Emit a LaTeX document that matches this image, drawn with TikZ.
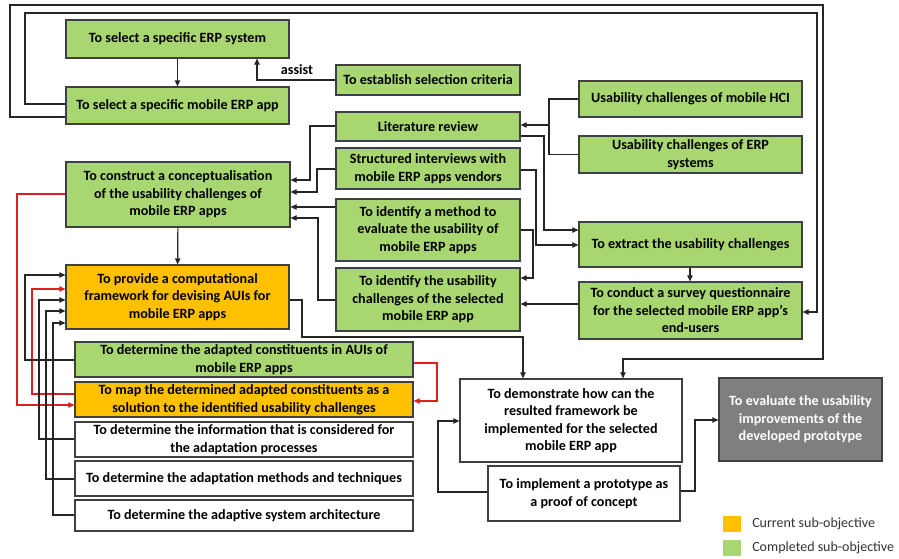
\documentclass[tikz,border=0pt]{standalone}
\usepackage{fontspec}
\setmainfont{Carlito}
\usetikzlibrary{arrows.meta}

\definecolor{donegreen}{RGB}{168,214,112}
\definecolor{curorange}{RGB}{255,192,0}
\definecolor{pendgrey}{RGB}{127,127,127}
\definecolor{edgegrey}{RGB}{64,64,64}
\definecolor{linkred}{RGB}{225,30,30}

\tikzset{
  boxfont/.style={font=\fontsize{10.6}{13.1}\selectfont\bfseries},
  objbox/.style={draw=edgegrey, line width=0.9pt, align=center, inner sep=0pt, boxfont},
  done/.style={objbox, fill=donegreen},
  current/.style={objbox, fill=curorange},
  todo/.style={objbox, fill=white},
  later/.style={objbox, fill=pendgrey, text=white},
  link/.style={color=black!85, line width=0.85pt},
  arr/.style={link, -{Triangle[length=4.5pt,width=4pt]}},
  redarr/.style={arr, color=linkred},
  legsq/.style={inner sep=0pt, minimum width=13.5pt, minimum height=12pt},
  legtxt/.style={anchor=west, inner sep=0pt, text=black!80,
                 font=\fontsize{10.5}{13}\selectfont},
}

% box given by its corners (x1,y1)-(x2,y2) in pixel units
\newcommand{\objnode}[7]{%
  \pgfmathsetmacro\objw{(#5-#3)*0.75}%
  \pgfmathsetmacro\objh{(#6-#4)*0.75}%
  \node[#1, minimum width=\objw pt, minimum height=\objh pt] (#2)
    at ({(#3+#5)/2},{(#4+#6)/2}) {#7};%
}

\begin{document}
\begin{tikzpicture}[x=0.75pt, y=-0.75pt]
\useasboundingbox (0,0) rectangle (899,559);

% ---- boxes ----
\objnode{done}{erp}{66}{20}{289}{58}{To select a specific ERP system}
\objnode{done}{app}{66}{87}{289}{124}{To select a specific mobile ERP app}
\objnode{done}{crit}{336}{65}{520}{95}{To establish selection criteria}
\objnode{done}{lit}{336}{112}{520}{141}{Literature review}
\objnode{done}{intv}{336}{148}{520}{189}{Structured interviews with\\mobile ERP apps vendors}
\objnode{done}{meth}{336}{199}{520}{261}{To identify a method to\\evaluate the usability of\\mobile ERP apps}
\objnode{done}{iden}{336}{268}{520}{331}{To identify the usability\\challenges of the selected\\mobile ERP app}
\objnode{done}{conc}{66}{162}{290}{227}{To construct a conceptualisation\\of the usability challenges of\\mobile ERP apps}
\objnode{current}{frame}{66}{265}{289}{329}{To provide a computational\\framework for devising AUIs for\\mobile ERP apps}
\objnode{done}{hci}{579}{81}{802}{117}{Usability challenges of mobile HCI}
\objnode{done}{erps}{579}{136}{802}{173}{Usability challenges of ERP\\systems}
\objnode{done}{extr}{579}{222}{802}{267}{To extract the usability challenges}
\objnode{done}{surv}{579}{282}{802}{339}{To conduct a survey questionnaire\\for the selected mobile ERP app’s\\end-users}
\objnode{done}{adap}{75}{342}{413}{377}{To determine the adapted constituents in AUIs of\\mobile ERP apps}
\objnode{current}{map}{75}{382}{413}{417}{To map the determined adapted constituents as a\\solution to the identified usability challenges}
\objnode{todo}{info}{75}{422}{413}{457}{To determine the information that is considered for\\the adaptation processes}
\objnode{todo}{amt}{75}{461}{413}{496}{To determine the adaptation methods and techniques}
\objnode{todo}{arch}{75}{500}{413}{531}{To determine the adaptive system architecture}
\objnode{todo}{demo}{460}{379}{682}{462}{To demonstrate how can the\\resulted framework be\\implemented for the selected\\mobile ERP app}
\objnode{todo}{impl}{488}{466}{680}{521}{To implement a prototype as\\a proof of concept}
\objnode{later}{eval}{719}{378}{882}{461}{To evaluate the usability\\improvements of the\\developed prototype}

% ---- legend ----
\node[legsq, fill=curorange] (legcur) at (732,524) {};
\node[legsq, fill=donegreen] (legdone) at (732,547.5) {};
\node[legtxt] (legcurtxt) at (752,524) {Current sub-objective};
\node[legtxt] (legdonetxt) at (752,547.5) {Completed sub-objective};

% ---- selection ----
\draw[arr] (erp) -- (app);
\draw[arr] (crit.west) -| (erp.south -| 257,0);
\node[boxfont, inner sep=0pt] (assist) at (297,70) {assist};

% loops from the selected app
\draw[arr] (app.west |- 0,104) -| (25,13) -| (817,312) -- (surv.east |- 0,312);
\draw[arr] (app.west |- 0,117) -| (10,5) -| (823,359) -| (demo.north -| 623,0);

% ---- literature ----
\coordinate (litjoin) at (549,125);
\draw[link] (hci.west) -| (litjoin) |- (erps.west);
\draw[arr] (litjoin) -- (lit.east |- litjoin);

% ---- into extraction and identification ----
\draw[arr] (lit.east |- 0,136) -| (544,230) -- (extr.west |- 0,230);
\draw[arr] (intv.east |- 0,170) -| (536,245) -- (extr.west |- 0,245);
\draw[arr] (meth.east |- 0,230) -| (533,278) -- (iden.east |- 0,278);
\draw[arr] (surv.west |- 0,304) -- (iden.east |- 0,304);
\draw[arr] (extr.south -| 690,0) -- (surv.north -| 690,0);

% ---- into the conceptualisation ----
\draw[arr] (lit.west |- 0,126) -| (310,180) -- (conc.east |- 0,180);
\draw[arr] (intv.west |- 0,169) -| (317,192) -- (conc.east |- 0,192);
\draw[arr] (meth.west |- 0,207) -- (conc.east |- 0,207);
\draw[arr] (iden.west |- 0,300) -| (318,218) -- (conc.east |- 0,218);
\draw[arr] (conc) -- (frame);

% ---- framework to demonstration ----
\draw[arr] (frame.east |- 0,300) -| (302,337) -| (demo.north -| 523,0);

% ---- red links ----
\draw[redarr] (conc.west |- 0,194) -| (17,405) -- (map.west |- 0,405);
\draw[redarr] (map.west |- 0,394) -| (32,289) -- (frame.west |- 0,289);
\draw[redarr] (adap.east |- 0,363) -| (437,401) -- (map.east |- 0,401);

% ---- sub-objectives feeding the framework ----
\draw[arr] (adap.west |- 0,360) -| (25,275) -- (frame.west |- 0,275);
\draw[arr] (info.west |- 0,439) -| (39,300) -- (frame.west |- 0,300);
\draw[arr] (amt.west |- 0,479) -| (46,311) -- (frame.west |- 0,311);
\draw[arr] (arch.west |- 0,515) -| (53,323) -- (frame.west |- 0,323);

% ---- prototype ----
\draw[arr] (impl.west |- 0,492) -| (438,421) -- (demo.west |- 0,421);
\draw[arr] (impl.east |- 0,491) -| (695,420) -- (eval.west |- 0,420);

\end{tikzpicture}
\end{document}
